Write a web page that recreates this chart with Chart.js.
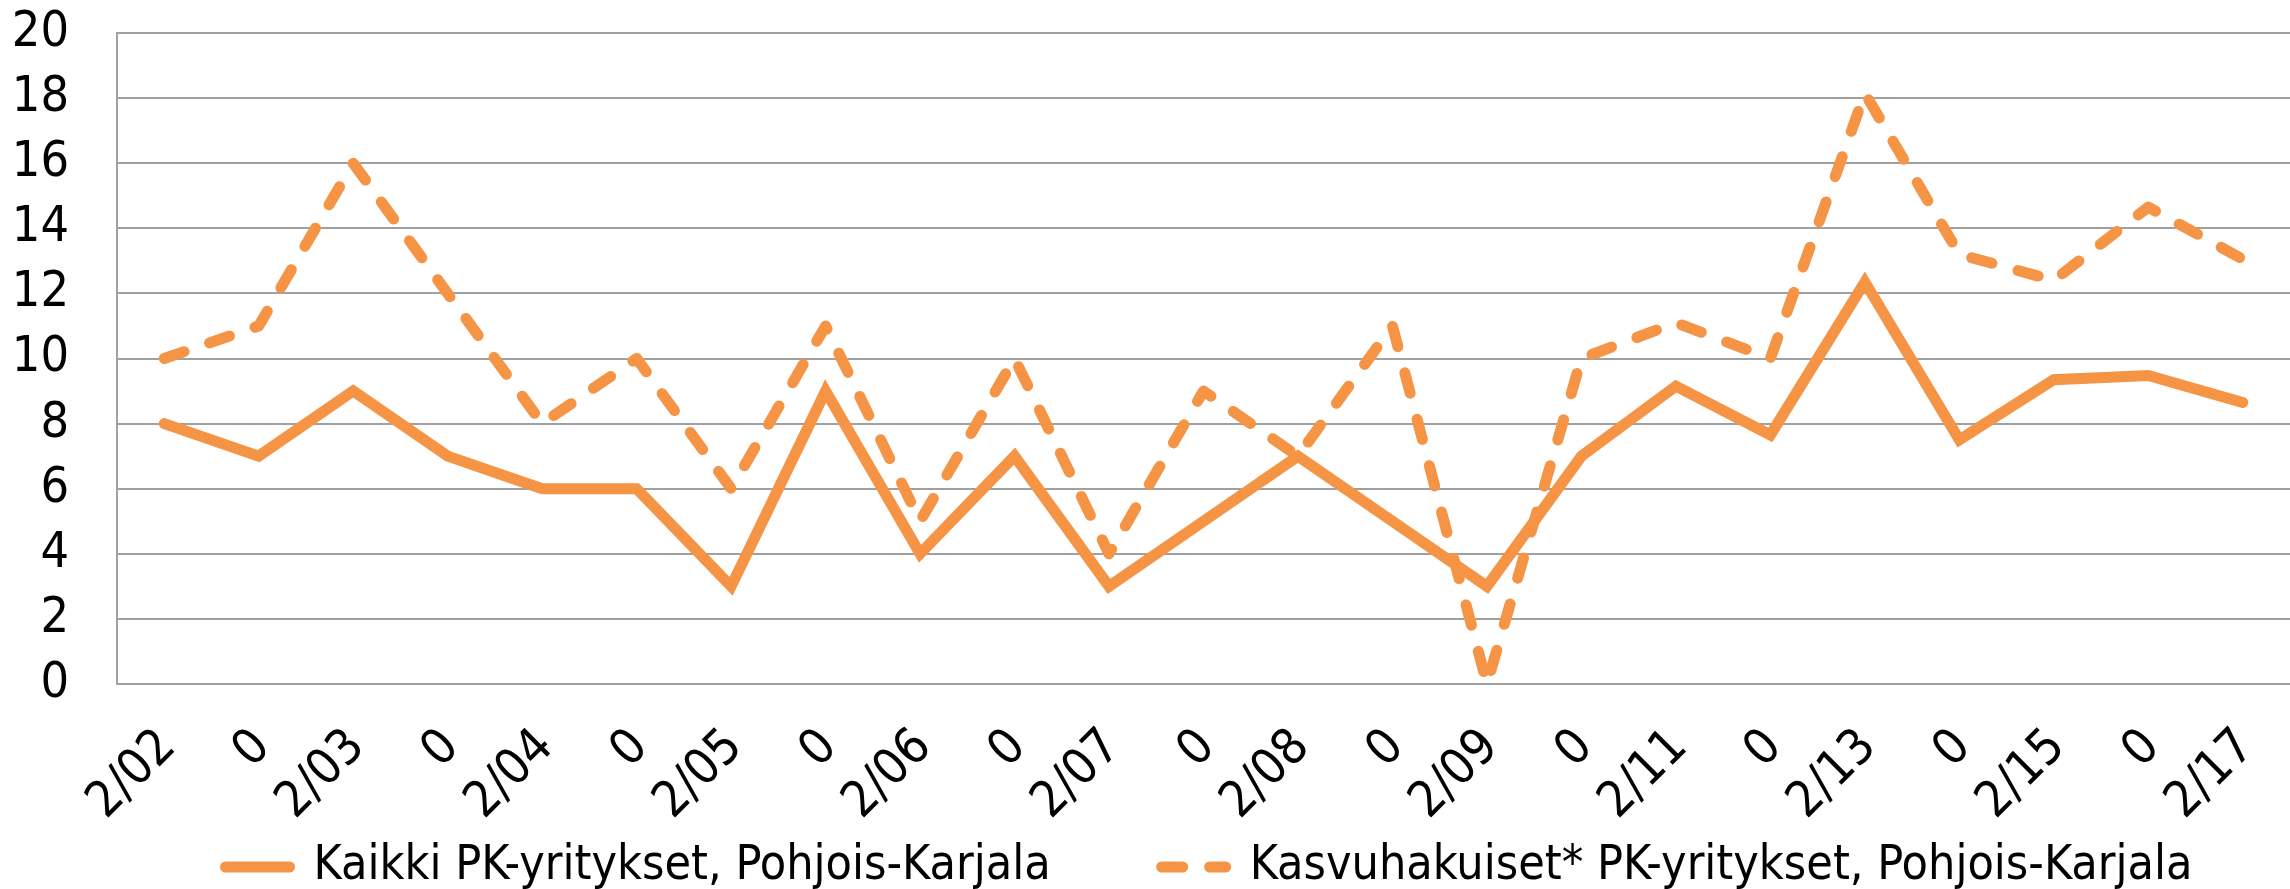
<!DOCTYPE html>
<html>
<head>
<meta charset="utf-8">
<script src="https://cdn.jsdelivr.net/npm/chart.js@4"></script>
<style>
  html, body { margin: 0; padding: 0; background: #fff; }
  #wrap { width: 2290px; height: 889px; }
</style>
</head>
<body>
<div id="wrap"><canvas id="chart" width="2290" height="889"></canvas></div>
<script>
// Category labels (as shown, cut off on the left)
const labels = [
    "2/02", "0", "2/03", "0", "2/04", "0", "2/05", "0", "2/06", "0", "2/07", "0",
    "2/08", "0", "2/09", "0", "2/11", "0", "2/13", "0", "2/15", "0", "2/17"
];

// Kaikki PK-yritykset, Pohjois-Karjala
const kaikki = [8, 7, 9, 7, 6, 6, 3, 9, 4, 7, 3, 5, 7, 5, 3, 7, 9.15, 7.65, 12.35, 7.5, 9.35, 9.48, 8.65];

// Kasvuhakuiset* PK-yritykset, Pohjois-Karjala
const kasvu = [10, 11, 16, 12, 8, 10, 6, 11, 5, 10, 4, 9, 7, 11, 0, 10, 11.1, 10, 18.15, 13.2, 12.4, 14.65, 13.05];

const yTicks = [0, 2, 4, 6, 8, 10, 12, 14, 16, 18, 20];

const colors = {
    line: "#F69446",
    grid: "#A0A0A0",
    text: "#000000"
};

const tickFont = { family: "DejaVu Sans Condensed", size: 50 };
const legendFont = { family: "DejaVu Sans Condensed", size: 48 };
const legendGap = 111;

// Legend in the original sits a bit right of centre, with wide gaps between items
const legendShift = {
    id: "legendShift",
    afterLayout(chart) {
        const lg = chart.legend;
        if (lg) {
            lg.left += 64;
            lg.right += 64;
            lg.top -= legendGap - 8;
        }
    }
};

const ctx = document.getElementById("chart").getContext("2d");
const chart = new Chart(ctx, {
    type: "line",
    data: {
        labels: labels,
        datasets: [
            {
                label: "Kaikki PK-yritykset, Pohjois-Karjala",
                data: kaikki,
                borderColor: colors.line,
                backgroundColor: colors.line,
                borderWidth: 11,
                borderCapStyle: "round",
                borderJoinStyle: "miter",
                pointRadius: 0,
                tension: 0,
                fill: false
            },
            {
                label: "Kasvuhakuiset* PK-yritykset, Pohjois-Karjala",
                data: kasvu,
                borderColor: colors.line,
                backgroundColor: colors.line,
                borderWidth: 11,
                borderDash: [21, 27],
                borderCapStyle: "round",
                borderJoinStyle: "round",
                pointRadius: 0,
                tension: 0,
                fill: false
            }
        ]
    },
    options: {
        responsive: false,
        animation: false,
        layout: {
            padding: { top: 33, right: 0, bottom: 0, left: 0 }
        },
        plugins: {
            legend: {
                display: true,
                position: "bottom",
                maxHeight: 54,
                labels: {
                    usePointStyle: true,
                    pointStyle: "line",
                    pointStyleWidth: 64,
                    boxHeight: 48,
                    color: colors.text,
                    font: legendFont,
                    padding: legendGap,
                    generateLabels: function(chart) {
                        const items = Chart.defaults.plugins.legend.labels.generateLabels(chart);
                        items.forEach((item, i) => {
                            const ds = chart.data.datasets[i];
                            item.lineDash = ds.borderDash || [];
                            item.lineCap = "round";
                            item.lineWidth = ds.borderWidth;
                            item.strokeStyle = ds.borderColor;
                        });
                        return items;
                    }
                }
            },
            tooltip: { enabled: false }
        },
        scales: {
            x: {
                offset: true,
                grid: {
                    color: "rgba(0,0,0,0)",
                    drawTicks: true,
                    tickLength: 34,
                    tickColor: "rgba(0,0,0,0)"
                },
                border: { display: true, color: colors.grid, width: 2 },
                ticks: {
                    autoSkip: false,
                    maxRotation: 45,
                    minRotation: 45,
                    labelOffset: 4,
                    color: colors.text,
                    font: tickFont,
                    padding: 0
                },
                afterFit: function(scale) {
                    scale.height = 151;
                }
            },
            y: {
                min: 0,
                max: 20,
                afterBuildTicks: function(scale) {
                    scale.ticks = yTicks.map(v => ({ value: v }));
                },
                grid: {
                    color: colors.grid,
                    lineWidth: 2,
                    drawTicks: true,
                    tickLength: 48,
                    tickColor: "rgba(0,0,0,0)"
                },
                border: { display: true, color: colors.grid, width: 2 },
                ticks: {
                    color: colors.text,
                    font: tickFont,
                    padding: 0
                },
                afterFit: function(scale) {
                    scale.width = 117;
                }
            }
        }
    },
    plugins: [legendShift]
});
</script>
</body>
</html>
